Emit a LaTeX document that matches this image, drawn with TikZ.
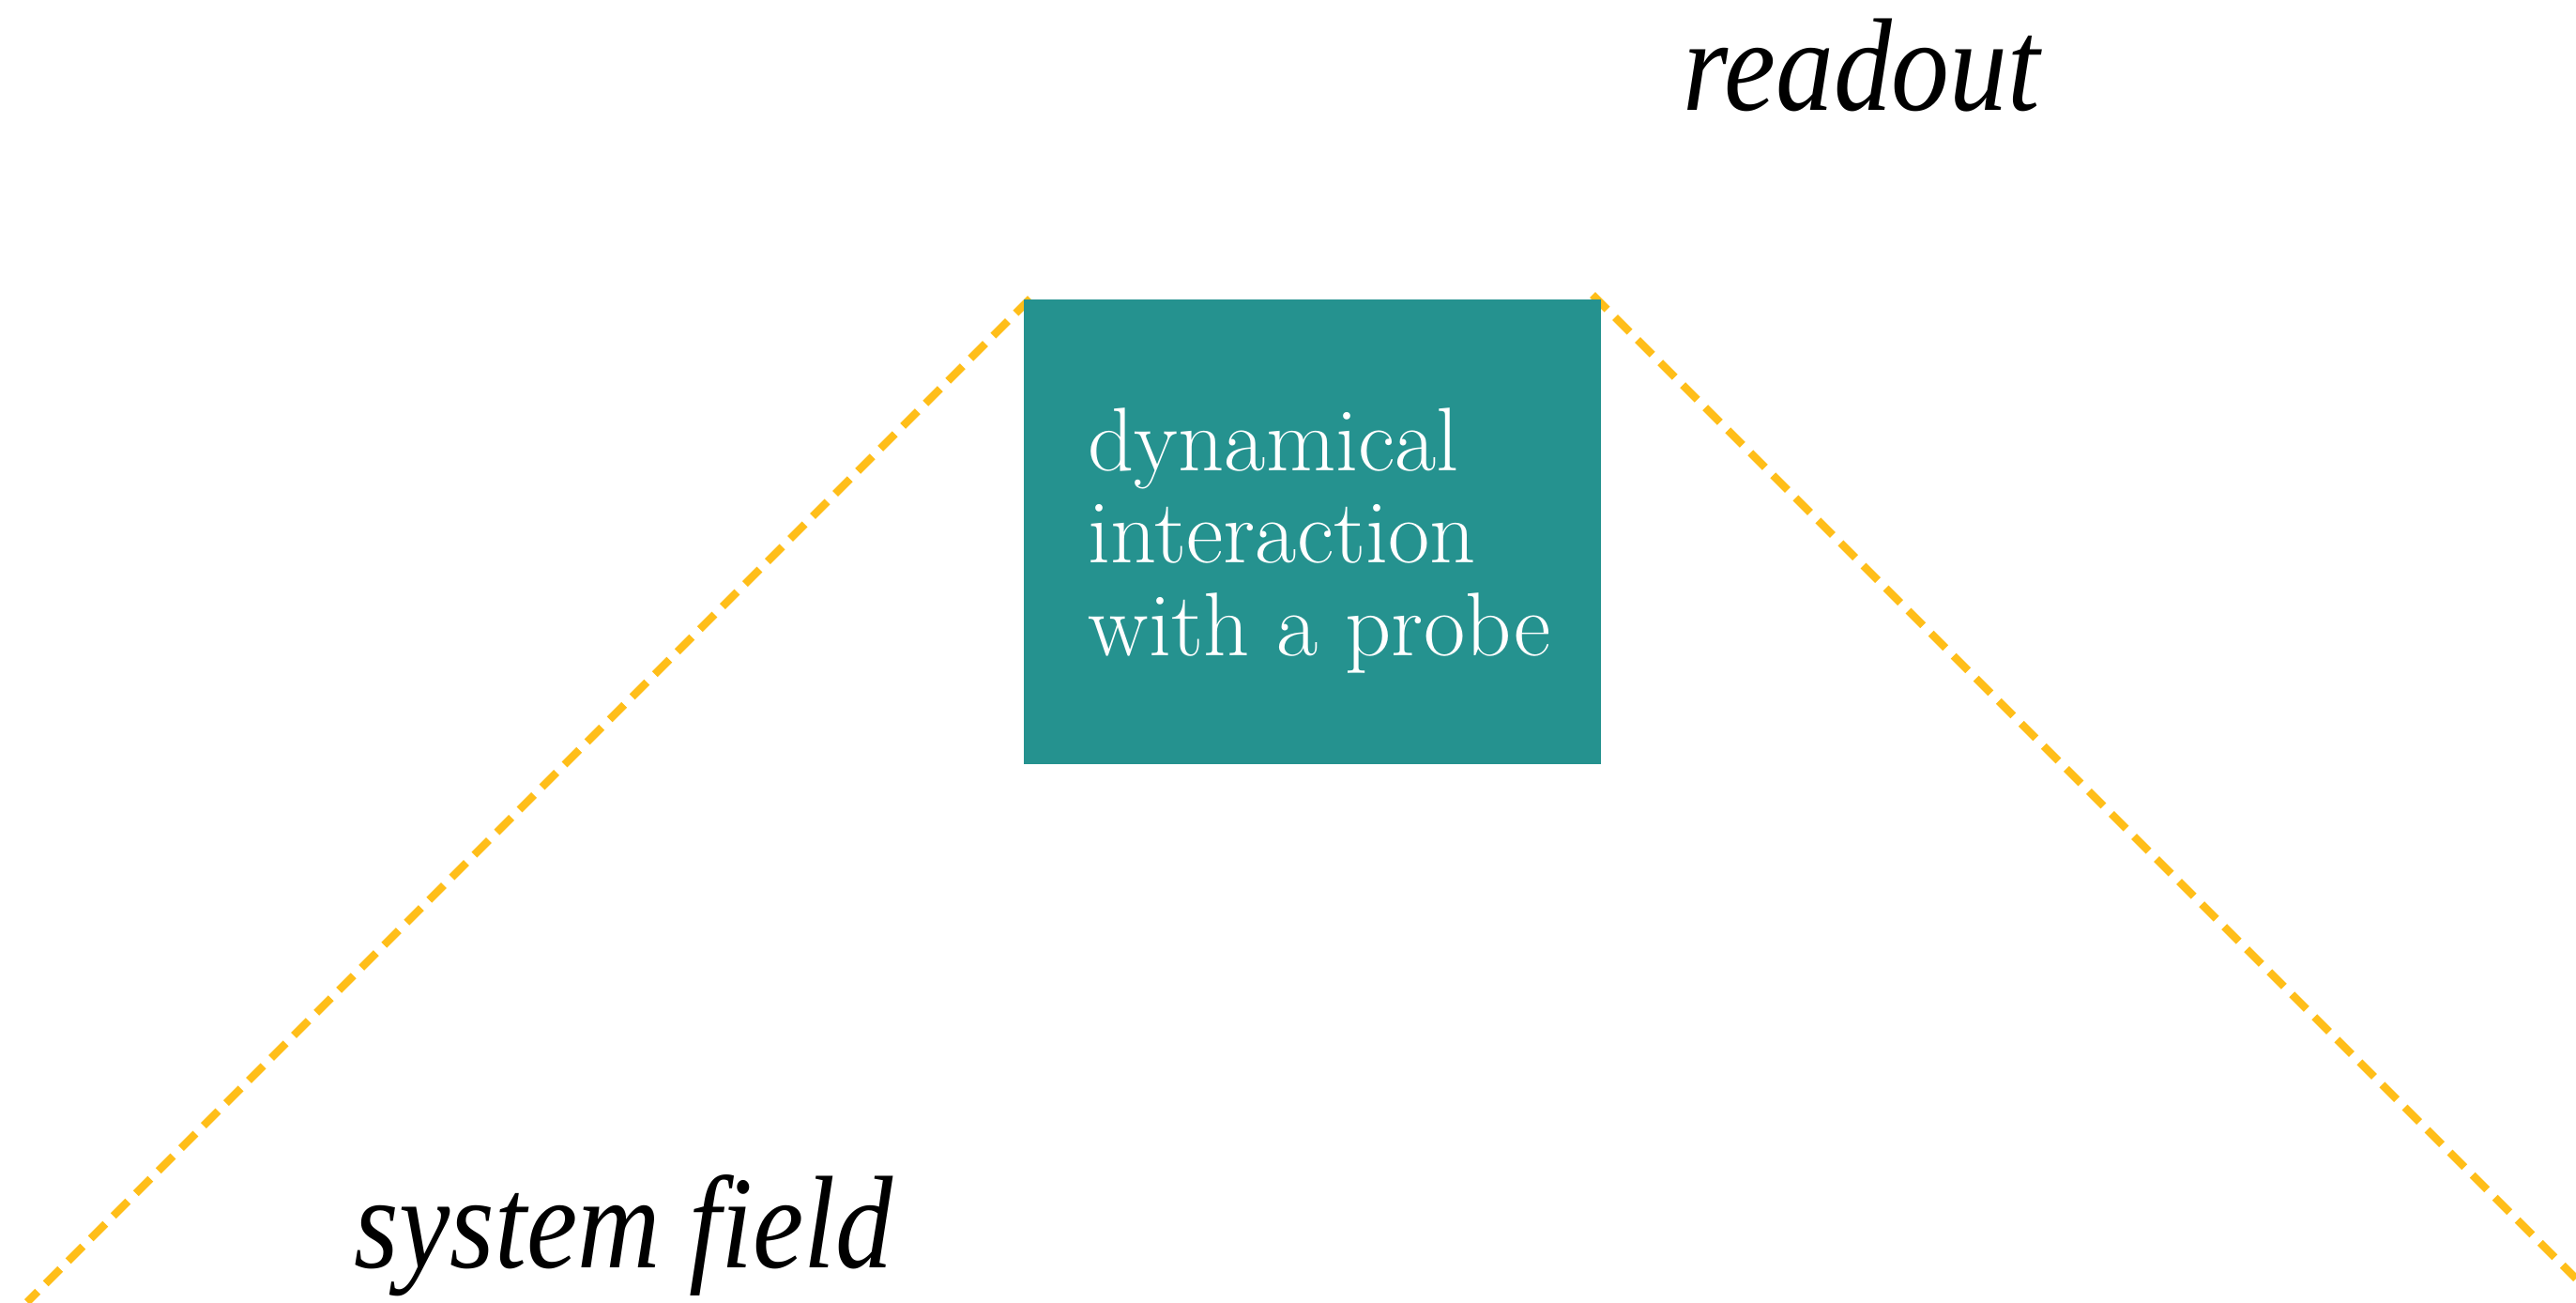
\documentclass[tikz,border=0pt]{standalone}
\usepackage{fontspec}
\newfontfamily\labelfont{Liberation Serif}
\usetikzlibrary{backgrounds,calc}
\definecolor{tealbox}{RGB}{37,146,143}
\definecolor{dashyellow}{RGB}{255,190,25}
\tikzset{
  probebox/.style={draw=none, fill=tealbox, rectangle, inner sep=0pt,
    minimum width=6.15cm, minimum height=4.95cm, anchor=north west},
  boxtext/.style={text=white, align=left, inner sep=0pt, anchor=base west,
    font=\fontsize{27.4}{27.9}\selectfont},
  fieldlabel/.style={inner sep=0pt, anchor=base west,
    font=\labelfont\itshape\fontsize{40}{48}\selectfont},
  dashline/.style={draw=dashyellow, line width=2.4pt, dash pattern=on 0.22cm off 0.12cm}
}
\begin{document}
\begin{tikzpicture}
\useasboundingbox (0,0) rectangle (27.45,-13.87);
\node[probebox] (box) at (10.90,-3.18) {};
\node[boxtext] (txt) at (11.59,-6.98) {dynamical\\interaction\\with a probe};
\node[fieldlabel] (readout) at (17.93,-1.17) {\scalebox{0.88}[1]{readout}};
\node[fieldlabel] (system) at (3.77,-13.50) {\scalebox{0.87}[1]{system field}};
\coordinate (lstart) at (10.98,-3.18);
\coordinate (lend) at (0.29,-13.87);
\coordinate (rstart) at (16.97,-3.14);
\coordinate (rend) at (27.45,-13.62);
\begin{scope}[on background layer]
\draw[dashline] (lstart) -- (lend);
\draw[dashline] (rstart) -- (rend);
\end{scope}
\end{tikzpicture}
\end{document}
